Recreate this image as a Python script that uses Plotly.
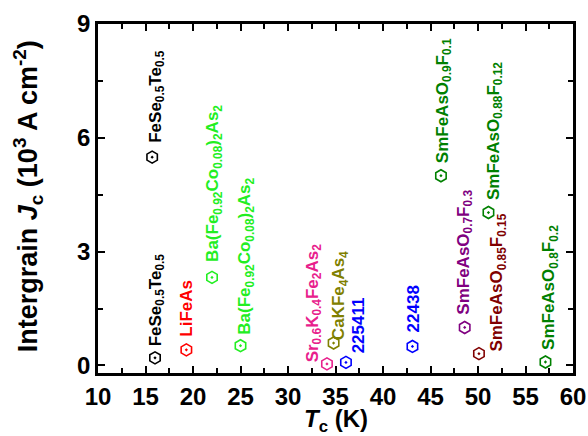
import plotly.graph_objects as go

# Data
labels = [
    "FeSe<sub>0.5</sub>Te<sub>0.5</sub>",
    "FeSe<sub>0.5</sub>Te<sub>0.5</sub>",
    "LiFeAs",
    "Ba(Fe<sub>0.92</sub>Co<sub>0.08</sub>)<sub>2</sub>As<sub>2</sub>",
    "Ba(Fe<sub>0.92</sub>Co<sub>0.08</sub>)<sub>2</sub>As<sub>2</sub>",
    "Sr<sub>0.6</sub>K<sub>0.4</sub>Fe<sub>2</sub>As<sub>2</sub>",
    "CaKFe<sub>4</sub>As<sub>4</sub>",
    "225411",
    "22438",
    "SmFeAsO<sub>0.9</sub>F<sub>0.1</sub>",
    "SmFeAsO<sub>0.7</sub>F<sub>0.3</sub>",
    "SmFeAsO<sub>0.85</sub>F<sub>0.15</sub>",
    "SmFeAsO<sub>0.88</sub>F<sub>0.12</sub>",
    "SmFeAsO<sub>0.8</sub>F<sub>0.2</sub>",
]
tc = [15.7, 16.0, 19.3, 22.0, 25.0, 34.1, 34.8, 36.1, 43.1, 46.1, 48.6, 50.1, 51.1, 57.1]
jc = [5.49, 0.20, 0.41, 2.32, 0.52, 0.04, 0.59, 0.08, 0.50, 5.00, 1.00, 0.31, 4.03, 0.09]
colors = ["#000000", "#000000", "#ff0000", "#22ee22", "#22ee22", "#e8208c",
          "#808000", "#0000ff", "#0000ff", "#008000", "#800080", "#800000",
          "#008000", "#008000"]

# label placement offsets relative to each marker (pixels)
label_dx = [1, -1, 0, -1, 3, -16, 3, 12, 1, 0, -3, 16, 3, 1]
label_dy = [12, 9, 11, 13, 9, 0, 1, 7, 12, 11, 11, 0, 11, 10]
has_sub = [True, True, False, True, True, True, True, False, False, True, True, True, True, True]

x_ticks = [10, 15, 20, 25, 30, 35, 40, 45, 50, 55, 60]
y_ticks = [0, 3, 6, 9]

FONT = "Liberation Sans"

fig = go.Figure()
fig.add_trace(go.Scatter(
    x=tc, y=jc, mode="markers",
    marker=dict(symbol="hexagon-open-dot", size=12, color=colors,
                line=dict(width=1.6, color=colors)),
    showlegend=False, hoverinfo="skip",
))

for x, y, t, c, dx, dy, s in zip(tc, jc, labels, colors, label_dx, label_dy, has_sub):
    fig.add_annotation(
        x=x, y=y, text=t, textangle=-90, showarrow=False,
        xanchor="center", yanchor="bottom", yshift=dy, xshift=dx + (3 if s else 0),
        font=dict(family=FONT, size=17, color=c, weight="bold"),
    )

# Axis titles
fig.add_annotation(
    xref="paper", yref="paper", x=-0.147, y=0.507,
    text="Intergrain <i>J</i><sub>c</sub> (10<sup>3</sup> A cm<sup>-2</sup>)",
    textangle=-90, showarrow=False, xanchor="center", yanchor="middle",
    font=dict(family=FONT, size=27, color="black", weight="bold"),
)
fig.add_annotation(
    xref="paper", yref="paper", x=0.5, y=-0.085,
    text="<i>T</i><sub>c</sub> (K)", showarrow=False,
    xanchor="center", yanchor="top",
    font=dict(family=FONT, size=24, color="black", weight="bold"),
)

axis_common = dict(
    showgrid=False, zeroline=False, showline=True, linewidth=2.5, linecolor="black",
    mirror="ticks", ticks="inside", ticklen=7, tickwidth=2, tickcolor="black",
    tickfont=dict(family=FONT, size=24, color="black", weight="bold"),
)

fig.update_xaxes(range=[10, 60], tickmode="array", tickvals=x_ticks,
                 minor=dict(dtick=2.5, ticks="inside", ticklen=5, tickwidth=2, tickcolor="black"),
                 **axis_common)
fig.update_yaxes(range=[-0.2, 9], tickmode="array", tickvals=y_ticks,
                 minor=dict(dtick=1.5, ticks="inside", ticklen=5, tickwidth=2, tickcolor="black"),
                 **axis_common)

fig.update_layout(
    width=588, height=436,
    margin=dict(l=98, r=15, t=24, b=63, autoexpand=False),
    plot_bgcolor="white", paper_bgcolor="white",
)

fig.write_html("out.html")
